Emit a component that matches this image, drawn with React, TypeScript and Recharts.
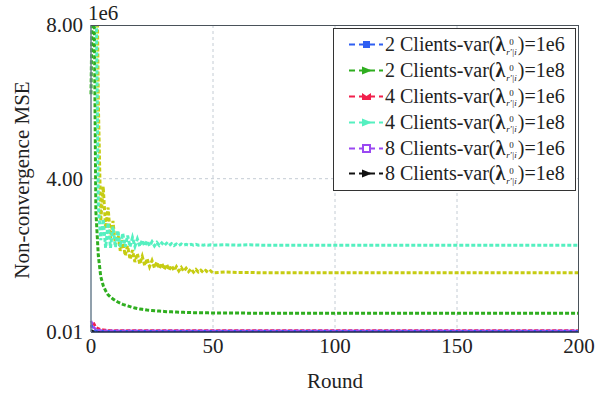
import React from "react";
import { CartesianGrid, Legend, Line, LineChart, XAxis, YAxis } from "recharts";

// rounds: every round up to 50, then every 5 rounds
const ROUNDS = [
  0, 1, 2, 3, 4, 5, 6, 7, 8, 9,
  10, 11, 12, 13, 14, 15, 16, 17, 18, 19,
  20, 21, 22, 23, 24, 25, 26, 27, 28, 29,
  30, 31, 32, 33, 34, 35, 36, 37, 38, 39,
  40, 41, 42, 43, 44, 45, 46, 47, 48, 49,
  50, 55, 60, 65, 70, 75, 80, 85, 90, 95,
  100, 105, 110, 115, 120, 125, 130, 135, 140, 145,
  150, 155, 160, 165, 170, 175, 180, 185, 190, 195,
  200,
];

// values in units of 1e6
const C2_1E6 = [
  0.2, 0.1, 0.05, 0.04, 0.035, 0.03, 0.03, 0.03, 0.03, 0.03,
  0.03, 0.03, 0.03, 0.03, 0.03, 0.03, 0.03, 0.03, 0.03, 0.03,
  0.03, 0.03, 0.03, 0.03, 0.03, 0.03, 0.03, 0.03, 0.03, 0.03,
  0.03, 0.03, 0.03, 0.03, 0.03, 0.03, 0.03, 0.03, 0.03, 0.03,
  0.03, 0.03, 0.03, 0.03, 0.03, 0.03, 0.03, 0.03, 0.03, 0.03,
  0.03, 0.03, 0.03, 0.03, 0.03, 0.03, 0.03, 0.03, 0.03, 0.03,
  0.03, 0.03, 0.03, 0.03, 0.03, 0.03, 0.03, 0.03, 0.03, 0.03,
  0.03, 0.03, 0.03, 0.03, 0.03, 0.03, 0.03, 0.03, 0.03, 0.03,
  0.03,
];
const C2_1E8 = [
  6.2, 11, 3.15, 2.0, 1.45, 1.22, 1.08, 0.98, 0.92, 0.87,
  0.83, 0.79, 0.76, 0.73, 0.71, 0.69, 0.67, 0.65, 0.635, 0.62,
  0.61, 0.6, 0.59, 0.58, 0.575, 0.57, 0.565, 0.56, 0.555, 0.55,
  0.545, 0.54, 0.537, 0.534, 0.531, 0.528, 0.525, 0.523, 0.521, 0.519,
  0.517, 0.515, 0.514, 0.513, 0.512, 0.511, 0.51, 0.509, 0.508, 0.507,
  0.506, 0.504, 0.502, 0.501, 0.5, 0.5, 0.5, 0.5, 0.5, 0.5,
  0.5, 0.5, 0.5, 0.5, 0.5, 0.5, 0.5, 0.5, 0.5, 0.5,
  0.5, 0.5, 0.5, 0.5, 0.5, 0.5, 0.5, 0.5, 0.5, 0.5,
  0.5,
];
const C4_1E6 = [
  0.12, 0.26, 0.14, 0.1, 0.08, 0.07, 0.06, 0.055, 0.05, 0.05,
  0.05, 0.05, 0.05, 0.05, 0.05, 0.05, 0.05, 0.05, 0.05, 0.05,
  0.05, 0.05, 0.05, 0.05, 0.05, 0.05, 0.05, 0.05, 0.05, 0.05,
  0.05, 0.05, 0.05, 0.05, 0.05, 0.05, 0.05, 0.05, 0.05, 0.05,
  0.05, 0.05, 0.05, 0.05, 0.05, 0.05, 0.05, 0.05, 0.05, 0.05,
  0.05, 0.05, 0.05, 0.05, 0.05, 0.05, 0.05, 0.05, 0.05, 0.05,
  0.05, 0.05, 0.05, 0.05, 0.05, 0.05, 0.05, 0.05, 0.05, 0.05,
  0.05, 0.05, 0.05, 0.05, 0.05, 0.05, 0.05, 0.05, 0.05, 0.05,
  0.05,
];
const C4_1E8 = [
  14, 12, 9.5, 3.3, 2.4, 2.95, 2.2, 2.85, 2.2, 2.75,
  2.22, 2.65, 2.22, 2.58, 2.23, 2.52, 2.23, 2.47, 2.24, 2.43,
  2.24, 2.4, 2.25, 2.38, 2.25, 2.36, 2.25, 2.34, 2.26, 2.33,
  2.26, 2.32, 2.26, 2.31, 2.26, 2.3, 2.26, 2.3, 2.27, 2.29,
  2.27, 2.29, 2.27, 2.29, 2.27, 2.28, 2.27, 2.28, 2.27, 2.28,
  2.27, 2.28, 2.27, 2.28, 2.27, 2.27, 2.27, 2.27, 2.27, 2.27,
  2.27, 2.27, 2.27, 2.27, 2.27, 2.27, 2.27, 2.27, 2.27, 2.27,
  2.27, 2.27, 2.27, 2.27, 2.27, 2.27, 2.27, 2.27, 2.27, 2.27,
  2.27,
];
const C8_1E6 = [
  0.3, 0.14, 0.08, 0.06, 0.05, 0.045, 0.04, 0.04, 0.04, 0.04,
  0.04, 0.04, 0.04, 0.04, 0.04, 0.04, 0.04, 0.04, 0.04, 0.04,
  0.04, 0.04, 0.04, 0.04, 0.04, 0.04, 0.04, 0.04, 0.04, 0.04,
  0.04, 0.04, 0.04, 0.04, 0.04, 0.04, 0.04, 0.04, 0.04, 0.04,
  0.04, 0.04, 0.04, 0.04, 0.04, 0.04, 0.04, 0.04, 0.04, 0.04,
  0.04, 0.04, 0.04, 0.04, 0.04, 0.04, 0.04, 0.04, 0.04, 0.04,
  0.04, 0.04, 0.04, 0.04, 0.04, 0.04, 0.04, 0.04, 0.04, 0.04,
  0.04, 0.04, 0.04, 0.04, 0.04, 0.04, 0.04, 0.04, 0.04, 0.04,
  0.04,
];
const C8_1E8 = [
  0.06, 0.03, 0.02, 0.015, 0.015, 0.015, 0.015, 0.015, 0.015, 0.015,
  0.015, 0.015, 0.015, 0.015, 0.015, 0.015, 0.015, 0.015, 0.015, 0.015,
  0.015, 0.015, 0.015, 0.015, 0.015, 0.015, 0.015, 0.015, 0.015, 0.015,
  0.015, 0.015, 0.015, 0.015, 0.015, 0.015, 0.015, 0.015, 0.015, 0.015,
  0.015, 0.015, 0.015, 0.015, 0.015, 0.015, 0.015, 0.015, 0.015, 0.015,
  0.015, 0.015, 0.015, 0.015, 0.015, 0.015, 0.015, 0.015, 0.015, 0.015,
  0.015, 0.015, 0.015, 0.015, 0.015, 0.015, 0.015, 0.015, 0.015, 0.015,
  0.015, 0.015, 0.015, 0.015, 0.015, 0.015, 0.015, 0.015, 0.015, 0.015,
  0.015,
];
// extra yellow curve that is drawn but not listed in the legend
const EXTRA = [
  10, 13, 12, 6.0, 2.9, 3.8, 2.7, 3.25, 2.45, 2.9,
  2.28, 2.6, 2.12, 2.4, 2.0, 2.25, 1.9, 2.14, 1.83, 2.05,
  1.78, 1.98, 1.74, 1.92, 1.71, 1.87, 1.68, 1.83, 1.66, 1.8,
  1.64, 1.77, 1.62, 1.74, 1.61, 1.71, 1.6, 1.69, 1.59, 1.67,
  1.58, 1.65, 1.57, 1.64, 1.57, 1.62, 1.56, 1.61, 1.56, 1.6,
  1.55, 1.57, 1.56, 1.56, 1.55, 1.55, 1.55, 1.55, 1.55, 1.55,
  1.55, 1.55, 1.55, 1.55, 1.55, 1.55, 1.55, 1.55, 1.55, 1.55,
  1.55, 1.55, 1.55, 1.55, 1.55, 1.55, 1.55, 1.55, 1.55, 1.55,
  1.55,
];

const X_TICKS = [0, 50, 100, 150, 200];
const Y_TICKS = [0.01, 4, 8];

const FONT = "Liberation Serif";

type Shape = "square" | "arrow" | "bow" | "hollow";
type Series = { key: string; clients: number; variance: string; color: string; shape: Shape; values: number[] };

const SERIES: Series[] = [
  { key: "c2e6", clients: 2, variance: "1e6", color: "#2f5ff2", shape: "square", values: C2_1E6 },
  { key: "c2e8", clients: 2, variance: "1e8", color: "#2fae1f", shape: "arrow", values: C2_1E8 },
  { key: "c4e6", clients: 4, variance: "1e6", color: "#f2204c", shape: "bow", values: C4_1E6 },
  { key: "c4e8", clients: 4, variance: "1e8", color: "#55f0c0", shape: "arrow", values: C4_1E8 },
  { key: "c8e6", clients: 8, variance: "1e6", color: "#9a48f2", shape: "hollow", values: C8_1E6 },
  { key: "c8e8", clients: 8, variance: "1e8", color: "#111111", shape: "arrow", values: C8_1E8 },
];
const EXTRA_COLOR = "#c6cc12";

const chartData = ROUNDS.map((round, i) => {
  const row: Record<string, number> = { round, extra: EXTRA[i] };
  SERIES.forEach((s) => (row[s.key] = s.values[i]));
  return row;
});

function Marker({ shape, color }: { shape: Shape; color: string }) {
  if (shape === "square") return <rect x={14} y={3} width={7} height={7} fill={color} />;
  if (shape === "hollow") return <rect x={14} y={3} width={7} height={7} fill="#fff" stroke={color} strokeWidth={2} />;
  if (shape === "bow") return <path d="M13 3 L17.5 6 L22 3 L22 10 L13 10 Z" fill={color} />;
  return <path d="M13 2.5 L23 6.5 L13 10.5 Z" fill={color} />;
}

function LegendBox() {
  return (
    <div style={{ border: "1.5px solid #333", background: "#fff", padding: "3px 2px 3px 15px", fontFamily: FONT, fontSize: 20, color: "#222", boxSizing: "border-box", width: 243, height: 163 }}>
      {SERIES.map((s) => (
        <div key={s.key} style={{ display: "flex", alignItems: "center", height: 25.8, whiteSpace: "nowrap" }}>
          <svg width={34} height={13} style={{ marginRight: 2, flex: "none" }}>
            <line x1={0} y1={6.5} x2={34} y2={6.5} stroke={s.color} strokeWidth={2} strokeDasharray="6 4" />
            <Marker shape={s.shape} color={s.color} />
          </svg>
          <span>{s.clients} Clients-var(</span>
          <b>λ</b>
          <span style={{ display: "inline-flex", flexDirection: "column", alignItems: "center", fontSize: 9, lineHeight: "10px", margin: "0 1px", position: "relative", top: 2 }}>
            <span>0</span>
            <span style={{ fontStyle: "italic" }}>r′|i</span>
          </span>
          <span>)={s.variance}</span>
        </div>
      ))}
    </div>
  );
}

export default function App() {
  const tick = { fontFamily: FONT, fontSize: 21, fill: "#222" };
  return (
    <div style={{ position: "absolute", left: 0, top: 0, width: 603, height: 397, background: "#fff", fontFamily: FONT }}>
      <LineChart width={603} height={397} data={chartData} margin={{ top: 25, right: 24, bottom: 35, left: 11 }}>
        <CartesianGrid stroke="#c4ccd4" strokeDasharray="3 3" verticalValues={[50, 100, 150]} horizontalValues={[4]} />
        <XAxis
          dataKey="round"
          type="number"
          domain={[0, 200]}
          ticks={X_TICKS}
          height={30}
          tickLine={false}
          tickMargin={0}
          axisLine={{ stroke: "#1c2a48", strokeWidth: 1.5 }}
          tick={tick}
        />
        <YAxis
          type="number"
          domain={[0.01, 8]}
          ticks={Y_TICKS}
          allowDataOverflow
          width={80}
          tickLine={false}
          axisLine={{ stroke: "#6d8090", strokeWidth: 1.5 }}
          tick={tick}
          tickFormatter={(v: number) => v.toFixed(2)}
        />
        <Line dataKey="c8e8" stroke={SERIES[5].color} strokeWidth={2} strokeDasharray="4 2" dot={false} isAnimationActive={false} />
        <Line dataKey="c4e6" stroke={SERIES[2].color} strokeWidth={2.5} strokeDasharray="4 2" dot={false} isAnimationActive={false} />
        <Line dataKey="c2e6" stroke={SERIES[0].color} strokeWidth={2.5} strokeDasharray="4 2" dot={false} isAnimationActive={false} />
        <Line dataKey="c8e6" stroke={SERIES[4].color} strokeWidth={2.5} strokeDasharray="4 2" dot={false} isAnimationActive={false} />
        <Line dataKey="c2e8" stroke={SERIES[1].color} strokeWidth={3} strokeDasharray="4 2" dot={false} isAnimationActive={false} />
        <Line dataKey="extra" stroke={EXTRA_COLOR} strokeWidth={3} strokeDasharray="4 2" dot={false} isAnimationActive={false} legendType="none" />
        <Line dataKey="c4e8" stroke={SERIES[3].color} strokeWidth={3} strokeDasharray="4 2" dot={false} isAnimationActive={false} />
        <Legend
          layout="horizontal"
          verticalAlign="middle"
          align="center"
          content={() => <LegendBox />}
          wrapperStyle={{ position: "absolute", left: 333, top: 28, width: 243, height: 163 }}
        />
      </LineChart>
      {/* plot frame */}
      <div style={{ position: "absolute", left: 91, top: 25, width: 488, height: 307, borderTop: "1.5px solid #4a525a", borderRight: "1.5px solid #4a525a", boxSizing: "border-box", pointerEvents: "none" }} />
      <div style={{ position: "absolute", left: 88, top: 1, fontSize: 21, color: "#222" }}>1e6</div>
      <div style={{ position: "absolute", left: 22, top: 180, transform: "translate(-50%, -50%) rotate(-90deg)", fontSize: 21, color: "#222", whiteSpace: "nowrap" }}>
        Non-convergence MSE
      </div>
      <div style={{ position: "absolute", left: 335, top: 381, transform: "translate(-50%, -50%)", fontSize: 21, color: "#222" }}>
        Round
      </div>
    </div>
  );
}
